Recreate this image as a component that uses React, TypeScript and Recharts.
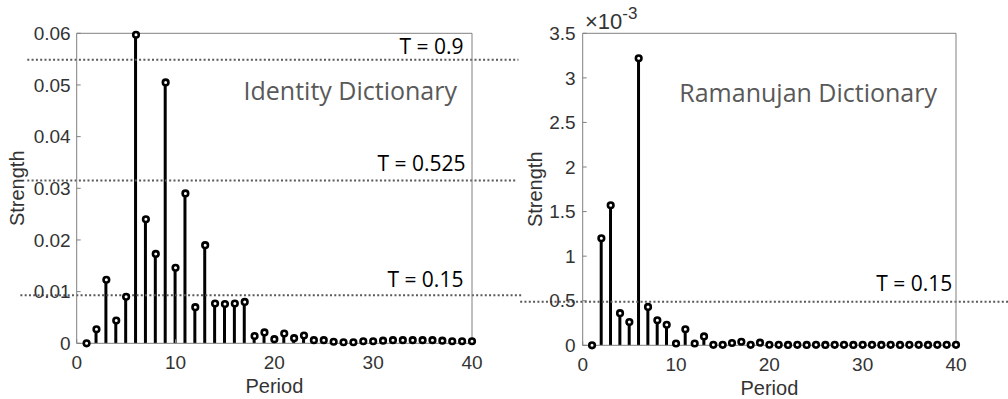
import { Bar, ComposedChart, Line, ReferenceLine, XAxis, YAxis } from 'recharts';

// periods 1..40
const periods = [
  1, 2, 3, 4, 5, 6, 7, 8, 9, 10, 11, 12, 13, 14, 15, 16, 17, 18, 19, 20,
  21, 22, 23, 24, 25, 26, 27, 28, 29, 30, 31, 32, 33, 34, 35, 36, 37, 38, 39, 40,
];

const identityStrength = [
  0, 0.0027, 0.0123, 0.0044, 0.009, 0.0597, 0.024, 0.0173, 0.0505, 0.0146,
  0.029, 0.007, 0.019, 0.0077, 0.0076, 0.0077, 0.008, 0.0014, 0.0021, 0.0008,
  0.0019, 0.001, 0.0015, 0.0006, 0.0006, 0.0003, 0.0002, 0.0002, 0.0004, 0.0004,
  0.0005, 0.0006, 0.0006, 0.0006, 0.0006, 0.0006, 0.0005, 0.0004, 0.0004, 0.0004,
];

// in units of 1e-3
const ramanujanStrength = [
  0, 1.2, 1.57, 0.36, 0.26, 3.22, 0.43, 0.28, 0.23, 0.02,
  0.18, 0.02, 0.1, 0.005, 0.005, 0.026, 0.04, 0.005, 0.03, 0.006,
  0.005, 0.004, 0.005, 0.004, 0.005, 0.004, 0.005, 0.005, 0.004, 0.005,
  0.005, 0.004, 0.005, 0.004, 0.005, 0.005, 0.004, 0.005, 0.005, 0.005,
];

const periodTicks = [0, 10, 20, 30, 40];
const identityTicks = [0, 0.01, 0.02, 0.03, 0.04, 0.05, 0.06];
const ramanujanTicks = [0, 0.5, 1, 1.5, 2, 2.5, 3, 3.5];

const identityThresholds = [
  { label: 'T = 0.9', value: 0.0549 },
  { label: 'T = 0.525', value: 0.0315 },
  { label: 'T = 0.15', value: 0.0093 },
];
const ramanujanThresholds = [{ label: 'T = 0.15', value: 0.489 }];

const identityData = periods.map((p, i) => ({ period: p, strength: identityStrength[i] }));
const ramanujanData = periods.map((p, i) => ({ period: p, strength: ramanujanStrength[i] }));

const AXIS = '#808080';
const INK = '#333';
const tickFont = { fill: INK, fontSize: 19, fontFamily: 'Liberation Sans' };
const labelFont = { fill: INK, fontSize: 20, fontFamily: 'Liberation Sans' };

const renderDot = (p: any) => (
  <circle key={`d${p.index}`} cx={p.cx} cy={p.cy} r={2.8} fill="#fff" stroke="#000" strokeWidth={2.6} />
);

const thresholdLabel = (text: string, fromEnd: number, above: number) => (p: any) => {
  const vb = p.viewBox;
  return (
    <text x={vb.x + vb.width - fromEnd} y={vb.y - above} textAnchor="end" fontFamily="Open Sans" fontSize={21} fill="#000">
      {text}
    </text>
  );
};

const titleLabel = (text: string, inset: number, down: number) => (p: any) => {
  const vb = p.viewBox;
  return (
    <text x={vb.x - inset} y={vb.y + down} textAnchor="end" fontFamily="Open Sans" fontSize={25} fill="#595959">
      {text}
    </text>
  );
};

function StemPanel(props: {
  data: { period: number; strength: number }[];
  width: number;
  margin: { top: number; right: number; bottom: number; left: number };
  yWidth: number;
  yDomain: number[];
  yTicks: number[];
  yTickMargin: number;
  title: any;
  lines: any[];
}) {
  const { data, width, margin, yWidth, yDomain, yTicks, yTickMargin, title, lines } = props;
  return (
    <ComposedChart width={width} height={399} data={data} margin={margin}>
      <XAxis
        dataKey="period"
        type="number"
        domain={[0, 40]}
        ticks={periodTicks}
        interval={0}
        height={30}
        stroke={AXIS}
        tickSize={-4}
        tickMargin={16}
        tick={tickFont}
        label={{ value: 'Period', position: 'bottom', offset: 5, ...labelFont }}
      />
      <XAxis
        xAxisId="top"
        orientation="top"
        type="number"
        domain={[0, 40]}
        ticks={periodTicks}
        interval={0}
        height={1}
        stroke={AXIS}
        tickSize={-4}
        tick={false}
      />
      <YAxis
        type="number"
        domain={yDomain}
        ticks={yTicks}
        interval={0}
        width={yWidth}
        stroke={AXIS}
        tickSize={-4}
        tickMargin={yTickMargin}
        tick={tickFont}
        label={{ value: 'Strength', angle: -90, position: 'insideLeft', offset: 0, style: { textAnchor: 'middle' }, ...labelFont }}
      />
      <YAxis
        yAxisId="right"
        orientation="right"
        type="number"
        domain={yDomain}
        ticks={yTicks}
        interval={0}
        width={1}
        stroke={AXIS}
        tickSize={4}
        tick={false}
        label={title}
      />
      <Bar dataKey="strength" barSize={3} fill="#000" isAnimationActive={false} />
      <Line
        dataKey="strength"
        type="linear"
        stroke="none"
        dot={renderDot}
        activeDot={false}
        isAnimationActive={false}
      />
      {lines}
    </ComposedChart>
  );
}

export default function App() {
  const dotted = { stroke: '#595959', strokeWidth: 2, strokeDasharray: '2 2.3', ifOverflow: 'visible' as const };

  const identityLines = [
    <ReferenceLine
      key="a"
      {...dotted}
      segment={[{ x: -5, y: identityThresholds[0].value }, { x: 44.7, y: identityThresholds[0].value }]}
      label={thresholdLabel(identityThresholds[0].label, 55, 6)}
    />,
    <ReferenceLine
      key="b"
      {...dotted}
      segment={[{ x: -5, y: identityThresholds[1].value }, { x: 44.4, y: identityThresholds[1].value }]}
      label={thresholdLabel(identityThresholds[1].label, 50, 10)}
    />,
    <ReferenceLine
      key="c"
      {...dotted}
      segment={[{ x: -5.7, y: identityThresholds[2].value }, { x: 45, y: identityThresholds[2].value }]}
      label={thresholdLabel(identityThresholds[2].label, 58, 8)}
    />,
  ];

  const ramanujanLines = [
    <ReferenceLine
      key="a"
      {...dotted}
      segment={[{ x: -6.7, y: ramanujanThresholds[0].value }, { x: 45.6, y: ramanujanThresholds[0].value }]}
      label={thresholdLabel(ramanujanThresholds[0].label, 56, 11)}
    />,
  ];

  return (
    <div style={{ position: 'absolute', left: 0, top: 0, width: 1008, height: 399, background: '#fff' }}>
      <div style={{ position: 'absolute', left: 0, top: 0 }}>
        <StemPanel
          data={identityData}
          width={530}
          margin={{ top: 32.3, right: 57, bottom: 25.7, left: 16.7 }}
          yWidth={60}
          yDomain={[0, 0.06]}
          yTicks={identityTicks}
          yTickMargin={10}
          title={titleLabel('Identity Dictionary', 15, 67)}
          lines={identityLines}
        />
      </div>
      <div style={{ position: 'absolute', left: 504, top: 0 }}>
        <StemPanel
          data={ramanujanData}
          width={504}
          margin={{ top: 32.3, right: 51, bottom: 23.7, left: 30.7 }}
          yWidth={48}
          yDomain={[0, 3.5]}
          yTicks={ramanujanTicks}
          yTickMargin={11}
          title={titleLabel('Ramanujan Dictionary', 19, 69)}
          lines={ramanujanLines}
        />
      </div>
      <div
        style={{
          position: 'absolute',
          left: 585,
          top: 11,
          fontFamily: 'Liberation Sans',
          fontSize: 22,
          lineHeight: '22px',
          color: INK,
          whiteSpace: 'nowrap',
        }}
      >
        ×10<sup style={{ fontSize: 17, verticalAlign: 'top', position: 'relative', top: -8 }}>-3</sup>
      </div>
    </div>
  );
}
